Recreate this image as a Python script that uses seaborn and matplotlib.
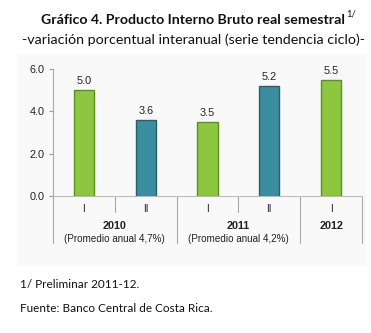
import matplotlib
matplotlib.use("Agg")
import matplotlib.pyplot as plt
import seaborn as sns
import pandas as pd
from matplotlib.patches import Rectangle

semesters = ["I", "II", "I", "II", "I"]
years = ["2010", "2010", "2011", "2011", "2012"]
values = [5.0, 3.6, 3.5, 5.2, 5.5]
bar_colors = ["#8dc63f", "#3b8ea0", "#8dc63f", "#3b8ea0", "#8dc63f"]
edge_colors = ["#5e8f22", "#24606e", "#5e8f22", "#24606e", "#5e8f22"]
year_labels = ["2010", "2011", "2012"]
year_notes = ["(Promedio anual 4,7%)", "(Promedio anual 4,2%)", ""]
yticks = [0.0, 2.0, 4.0, 6.0]

df = pd.DataFrame({"pos": [f"{y}-{s}" for y, s in zip(years, semesters)],
                   "value": values})

sns.set_theme(style="white")
W, H = 371, 333
fig = plt.figure(figsize=(W / 100, H / 100), dpi=100)
fig.patch.set_facecolor("white")

def fy(py):
    return 1 - py / H

# faint panel
fig.add_artist(Rectangle((18 / W, fy(266)), 348 / W, 212 / H,
                         transform=fig.transFigure, facecolor="#f9f9f9",
                         edgecolor="none", zorder=0))

ax = fig.add_axes([53 / W, fy(196), 309 / W, 127 / H])
ax.set_facecolor("none")
sns.barplot(data=df, x="pos", y="value", hue="pos", palette=bar_colors,
            width=0.33, legend=False, ax=ax, saturation=1)
for p, ec in zip(ax.patches, edge_colors):
    p.set_edgecolor(ec)
    p.set_linewidth(1.0)

ax.set_xlim(-0.5, len(values) - 0.5)
ax.set_ylim(0, 6)
ax.set_yticks(yticks)
ax.set_yticklabels([f"{v:.1f}" for v in yticks], fontsize=7.8,
                   family="Liberation Sans", color="#222222")
ax.tick_params(axis="y", length=3, width=0.8, color="#999999", pad=3, left=True)
ax.set_xticks([])
ax.set_xlabel("")
ax.set_ylabel("")
for s in ["top", "right"]:
    ax.spines[s].set_visible(False)
ax.spines["left"].set_color("#aaaaaa")
ax.spines["bottom"].set_color("#bbbbbb")
ax.spines["left"].set_linewidth(0.8)
ax.spines["bottom"].set_linewidth(0.8)

for i, v in enumerate(values):
    ax.text(i, v + 0.18, f"{v:.1f}", ha="center", va="bottom", fontsize=7.8,
            family="Liberation Sans", color="#222222")

px_per_unit = 127 / 6.0
def yd(py):
    return -(py - 196) / px_per_unit

for i, s in enumerate(semesters):
    ax.text(i, yd(209), s, ha="center", va="center", fontsize=7.3,
            family="Liberation Sans", color="#222222", clip_on=False)

year_groups = {}
for i, y in enumerate(years):
    year_groups.setdefault(y, []).append(i)

for i in range(1, len(values)):
    major = years[i] != years[i - 1]
    ax.plot([i - 0.5, i - 0.5], [0, yd(243 if major else 212)], color="#aaaaaa",
            lw=0.8, clip_on=False)
ax.plot([len(values) - 0.5] * 2, [0, yd(243)], color="#aaaaaa", lw=0.8, clip_on=False)
ax.plot([-0.5, -0.5], [0, yd(243)], color="#aaaaaa", lw=0.8, clip_on=False)

for y, note in zip(year_labels, year_notes):
    idx = year_groups[y]
    cx = sum(idx) / len(idx)
    ax.text(cx, yd(226), y, ha="center", va="center", fontsize=7.8,
            family="Liberation Sans", fontweight="bold", color="#222222", clip_on=False)
    if note:
        ax.text(cx, yd(239), note, ha="center", va="center", fontsize=7.1,
                family="Liberation Sans", color="#222222", clip_on=False)

fig.text(193 / W, fy(20), "Gráfico 4. Producto Interno Bruto real semestral",
         ha="center", va="center", fontsize=10.2, fontweight="bold", family="Lato",
         color="#111111")
fig.text(346 / W, fy(14), "1/", ha="left", va="center", fontsize=6.8,
         family="Lato", color="#111111")
fig.text(193 / W, fy(40), "-variación porcentual interanual (serie tendencia ciclo)-",
         ha="center", va="center", fontsize=10.3, family="Lato", color="#111111")
fig.text(20 / W, fy(284), "1/ Preliminar 2011-12.", ha="left", va="center",
         fontsize=8.5, family="Lato", color="#111111")
fig.text(20 / W, fy(308), "Fuente: Banco Central de Costa Rica.", ha="left",
         va="center", fontsize=8.5, family="Lato", color="#111111")

fig.savefig("out.png", dpi=100)
